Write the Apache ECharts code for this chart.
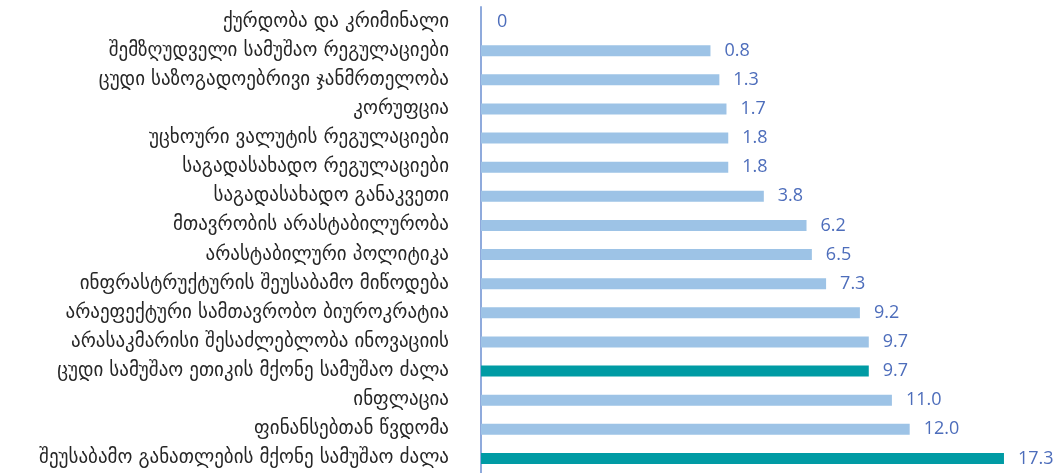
<!DOCTYPE html>
<html lang="ka">
<head>
    <meta charset="UTF-8">
    <title>ბიზნესის ხელშემშლელი ფაქტორები</title>
    <script src="https://cdn.jsdelivr.net/npm/echarts@6.0.0/dist/echarts.min.js"></script>
    <style>
        html, body { margin: 0; padding: 0; background: #fff; }
        #chart { width: 1061px; height: 473px; }
    </style>
</head>
<body>
    <div id="chart"></div>
    <script>
        // კატეგორიები (ზემოდან ქვემოთ)
        const categories = [
            'ქურდობა და კრიმინალი',
            'შემზღუდველი სამუშაო რეგულაციები',
            'ცუდი საზოგადოებრივი ჯანმრთელობა',
            'კორუფცია',
            'უცხოური ვალუტის რეგულაციები',
            'საგადასახადო რეგულაციები',
            'საგადასახადო განაკვეთი',
            'მთავრობის არასტაბილურობა',
            'არასტაბილური პოლიტიკა',
            'ინფრასტრუქტურის შეუსაბამო მიწოდება',
            'არაეფექტური სამთავრობო ბიუროკრატია',
            'არასაკმარისი შესაძლებლობა ინოვაციის',
            'ცუდი სამუშაო ეთიკის მქონე სამუშაო ძალა',
            'ინფლაცია',
            'ფინანსებთან წვდომა',
            'შეუსაბამო განათლების მქონე სამუშაო ძალა'
        ];
        const values = [0, 0.8, 1.3, 1.7, 1.8, 1.8, 3.8, 6.2, 6.5, 7.3, 9.2, 9.7, 9.7, 11.0, 12.0, 17.3];
        // გამოკვეთილი კატეგორიები
        const highlighted = [
            'ცუდი სამუშაო ეთიკის მქონე სამუშაო ძალა',
            'შეუსაბამო განათლების მქონე სამუშაო ძალა'
        ];

        const chart = echarts.init(document.getElementById('chart'));
        chart.setOption({
            animation: false,
            grid: { left: 481, right: 9, top: 7, bottom: -3, containLabel: false },
            xAxis: {
                type: 'value',
                min: -12.1,
                max: 20,
                startValue: -12.1,
                show: false
            },
            yAxis: {
                type: 'category',
                inverse: true,
                data: categories,
                axisTick: { show: false },
                axisLine: { onZero: false, lineStyle: { color: '#8faadc', width: 2 } },
                axisLabel: {
                    margin: 32,
                    color: '#262626',
                    fontFamily: 'DejaVu Sans',
                    fontSize: 19
                }
            },
            series: [{
                type: 'bar',
                barWidth: 11,
                data: values.map((v, i) => {
                    const item = {
                        value: v,
                        itemStyle: { color: highlighted.includes(categories[i]) ? '#009ba4' : '#9dc3e6' }
                    };
                    if (v === 0) {
                        item.itemStyle = { color: 'rgba(0,0,0,0)' };
                        item.label = { position: 'insideLeft', offset: [2, 0] };
                    }
                    return item;
                }),
                label: {
                    show: true,
                    position: 'right',
                    distance: 14,
                    color: '#4d6dbb',
                    fontFamily: 'Open Sans',
                    fontSize: 18,
                    formatter: p => p.value === 0 ? '0' : p.value.toFixed(1)
                }
            }]
        });
    </script>
</body>
</html>
